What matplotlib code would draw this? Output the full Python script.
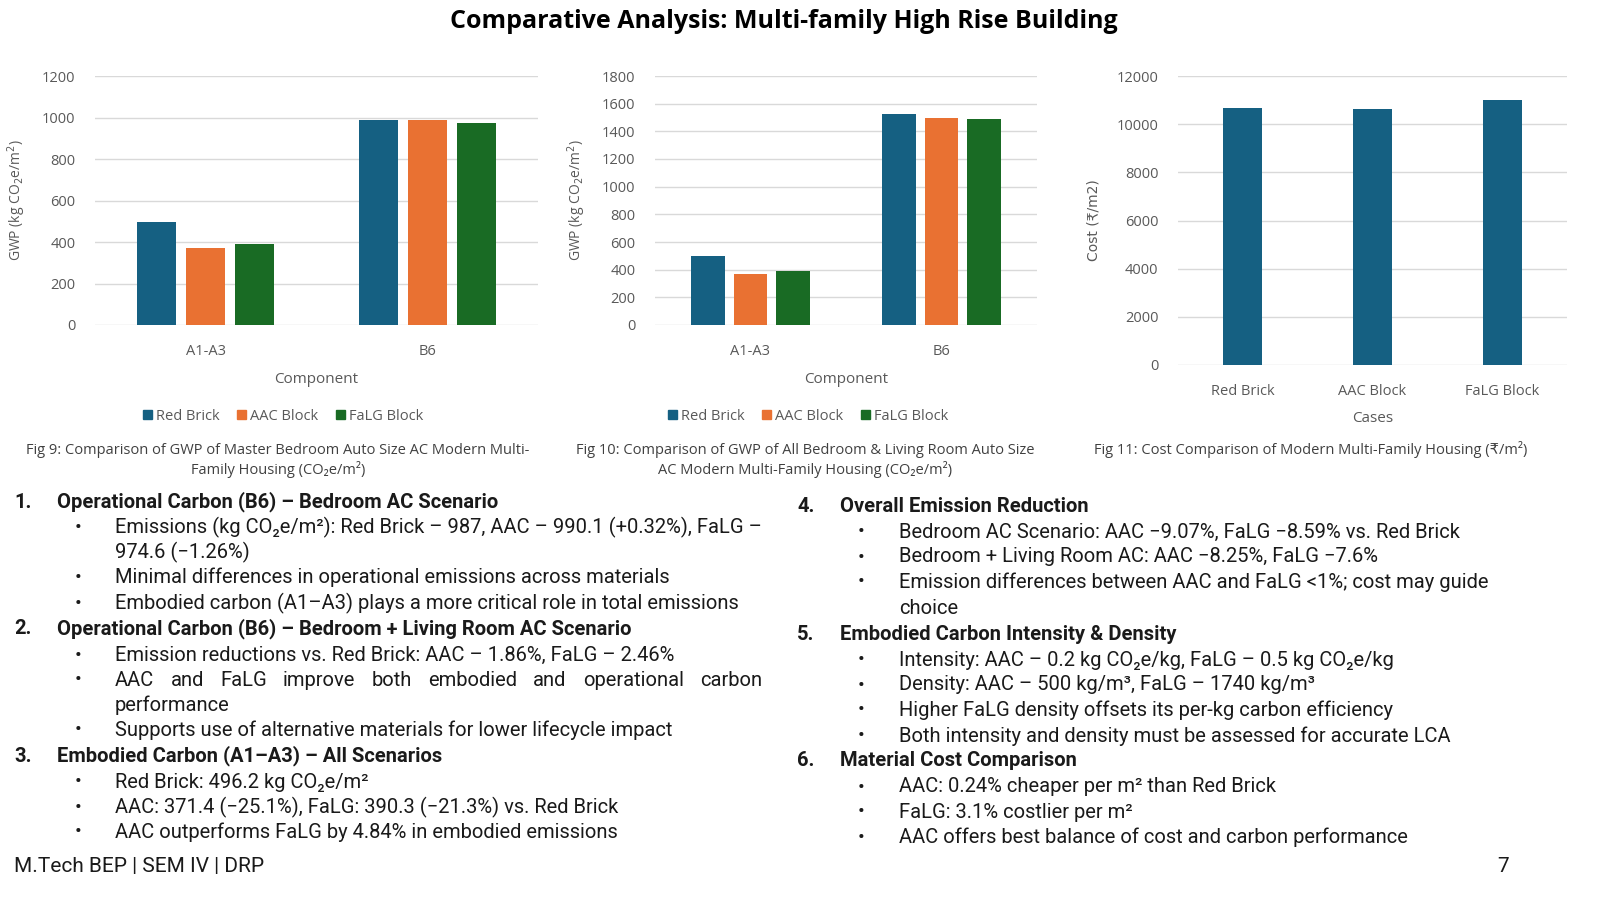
import numpy as np
import matplotlib
matplotlib.use('Agg')
import matplotlib.pyplot as plt
from matplotlib.patches import Patch

# data
components = ['A1-A3', 'B6']
materials = ['Red Brick', 'AAC Block', 'FaLG Block']
gwp_bedroom = {'Red Brick': [496.2, 987.0], 'AAC Block': [371.4, 990.1], 'FaLG Block': [390.3, 974.6]}
gwp_all_rooms = {'Red Brick': [496.2, 1525.0], 'AAC Block': [371.4, 1496.6], 'FaLG Block': [390.3, 1487.5]}
cost_cases = ['Red Brick', 'AAC Block', 'FaLG Block']
cost_values = [10660, 10634, 10990]
colors = {'Red Brick': '#156082', 'AAC Block': '#E97132', 'FaLG Block': '#196B24'}

CHART_FONT = ['Open Sans', 'DejaVu Sans']
BODY_FONT = ['Roboto', 'DejaVu Sans']
plt.rcParams['font.family'] = CHART_FONT

W, H = 1600, 900
fig = plt.figure(figsize=(16, 9), dpi=100)
fig.patch.set_facecolor('white')


def fx(x):
    return x / W


def fy(y):
    return 1 - y / H


def style_axes(ax, ymax, step):
    ax.set_ylim(0, ymax)
    ax.set_yticks(np.arange(0, ymax + 1, step))
    for s in ax.spines.values():
        s.set_visible(False)
    ax.grid(axis='y', color='#D9D9D9', linewidth=1)
    ax.set_axisbelow(True)
    ax.tick_params(axis='both', length=0, labelsize=10.5, labelcolor='#595959')
    ax.tick_params(axis='y', pad=14)
    ax.tick_params(axis='x', pad=14)


def grouped(ax, data, ymax, step):
    x = np.arange(len(components))
    bw = 0.176
    off = 0.222
    for i, m in enumerate(materials):
        ax.bar(x + (i - 1) * off, data[m], width=bw, color=colors[m], label=m)
    ax.set_xlim(-0.5, 1.5)
    ax.set_xticks(x)
    ax.set_xticklabels(components)
    style_axes(ax, ymax, step)
    ax.set_xlabel('Component', fontsize=11, color='#595959', labelpad=9)
    ax.set_ylabel('GWP (kg CO$_2$e/m$^2$)', fontsize=10, color='#595959', labelpad=10)


ax1 = fig.add_axes([fx(95), fy(325), fx(443), 249 / H])
grouped(ax1, gwp_bedroom, 1200, 200)
ax2 = fig.add_axes([fx(655), fy(325), fx(382), 249 / H])
grouped(ax2, gwp_all_rooms, 1800, 200)

ax3 = fig.add_axes([fx(1178), fy(365), fx(389), 289 / H])
ax3.bar(np.arange(3), cost_values, width=0.3, color=colors['Red Brick'])
ax3.set_xlim(-0.5, 2.5)
ax3.set_xticks(np.arange(3))
ax3.set_xticklabels(cost_cases)
style_axes(ax3, 12000, 2000)
ax3.set_xlabel('Cases', fontsize=11, color='#595959', labelpad=8)
ax3.set_ylabel('Cost (\u20b9/m2)', fontsize=10, color='#595959', labelpad=12,
               family=['DejaVu Sans'])

# legends
for cx in (283, 808):
    handles = [Patch(color=colors[m], label=m) for m in materials]
    fig.legend(handles=handles, loc='center', bbox_to_anchor=(fx(cx), fy(416)), ncol=3,
               frameon=False, fontsize=10.5, handlelength=0.6, handleheight=0.6,
               handletextpad=0.3, columnspacing=1.2, labelcolor='#595959')

# captions
cap = dict(fontsize=10.5, color='#404040', ha='center', va='center')
fig.text(fx(278), fy(450), 'Fig 9: Comparison of GWP of Master Bedroom Auto Size AC Modern Multi-', **cap)
fig.text(fx(278), fy(469), 'Family Housing (CO\u2082e/m\u00b2)', **cap)
fig.text(fx(805), fy(450), 'Fig 10: Comparison of GWP of All Bedroom & Living Room Auto Size', **cap)
fig.text(fx(805), fy(469), 'AC Modern Multi-Family Housing (CO\u2082e/m\u00b2)', **cap)
fig.text(fx(1311), fy(450), 'Fig 11: Cost Comparison of Modern Multi-Family Housing (\u20b9/m\u00b2)', **cap)

# title
fig.text(fx(784), fy(22), 'Comparative Analysis: Multi-family High Rise Building', fontsize=18,
         fontweight='bold', ha='center', va='center', color='#000000')

# body text
BS = 14.5
body_kw = dict(family=BODY_FONT, fontsize=BS, color='#1a1a1a', va='center')
renderer = fig.canvas.get_renderer()


def header(num, text, xn, xt, y):
    fig.text(fx(xn), fy(y), num, fontweight='bold', **body_kw)
    fig.text(fx(xt), fy(y), text, fontweight='bold', **body_kw)


def bullet(text, xb, xt, y, show=True):
    if show:
        fig.text(fx(xb), fy(y), '\u2022', **body_kw)
    fig.text(fx(xt), fy(y), text, **body_kw)


def justified(text, xb, x0, x1, y):
    fig.text(fx(xb), fy(y), '\u2022', **body_kw)
    words = text.split()
    items = [fig.text(0, fy(y), w, **body_kw) for w in words]
    widths = [t.get_window_extent(renderer).width for t in items]
    gap = (x1 - x0 - sum(widths)) / (len(words) - 1)
    x = x0
    for t, wd in zip(items, widths):
        t.set_x(fx(x))
        x += wd + gap


LN, LH, LB, LT = 14, 57, 75, 115
header('1.', 'Operational Carbon (B6) \u2013 Bedroom AC Scenario', LN, LH, 502)
bullet('Emissions (kg CO\u2082e/m\u00b2): Red Brick \u2013 987, AAC \u2013 990.1 (+0.32%), FaLG \u2013', LB, LT, 527)
bullet('974.6 (\u22121.26%)', LB, LT, 552, show=False)
bullet('Minimal differences in operational emissions across materials', LB, LT, 577)
bullet('Embodied carbon (A1\u2013A3) plays a more critical role in total emissions', LB, LT, 603)
header('2.', 'Operational Carbon (B6) \u2013 Bedroom + Living Room AC Scenario', LN, LH, 629)
bullet('Emission reductions vs. Red Brick: AAC \u2013 1.86%, FaLG \u2013 2.46%', LB, LT, 655)
justified('AAC and FaLG improve both embodied and operational carbon', LB, LT, 762, 680)
bullet('performance', LB, LT, 705, show=False)
bullet('Supports use of alternative materials for lower lifecycle impact', LB, LT, 730)
header('3.', 'Embodied Carbon (A1\u2013A3) \u2013 All Scenarios', LN, LH, 756)
bullet('Red Brick: 496.2 kg CO\u2082e/m\u00b2', LB, LT, 782)
bullet('AAC: 371.4 (\u221225.1%), FaLG: 390.3 (\u221221.3%) vs. Red Brick', LB, LT, 807)
bullet('AAC outperforms FaLG by 4.84% in embodied emissions', LB, LT, 832)

RN, RH, RB, RT = 797, 840, 858, 899
header('4.', 'Overall Emission Reduction', RN, RH, 507)
bullet('Bedroom AC Scenario: AAC \u22129.07%, FaLG \u22128.59% vs. Red Brick', RB, RT, 532)
bullet('Bedroom + Living Room AC: AAC \u22128.25%, FaLG \u22127.6%', RB, RT, 557)
bullet('Emission differences between AAC and FaLG <1%; cost may guide', RB, RT, 582)
bullet('choice', RB, RT, 608, show=False)
header('5.', 'Embodied Carbon Intensity & Density', RN, RH, 634)
bullet('Intensity: AAC \u2013 0.2 kg CO\u2082e/kg, FaLG \u2013 0.5 kg CO\u2082e/kg', RB, RT, 660)
bullet('Density: AAC \u2013 500 kg/m\u00b3, FaLG \u2013 1740 kg/m\u00b3', RB, RT, 685)
bullet('Higher FaLG density offsets its per-kg carbon efficiency', RB, RT, 710)
bullet('Both intensity and density must be assessed for accurate LCA', RB, RT, 736)
header('6.', 'Material Cost Comparison', RN, RH, 761)
bullet('AAC: 0.24% cheaper per m\u00b2 than Red Brick', RB, RT, 787)
bullet('FaLG: 3.1% costlier per m\u00b2', RB, RT, 812)
bullet('AAC offers best balance of cost and carbon performance', RB, RT, 837)

# footer
fig.text(fx(14), fy(866), 'M.Tech BEP | SEM IV | DRP', family=BODY_FONT, fontsize=15,
         color='#1a1a1a', va='center')
fig.text(fx(1497), fy(866), '7', family=BODY_FONT, fontsize=15, color='#1a1a1a', va='center')

fig.savefig('out.png', dpi=100)
